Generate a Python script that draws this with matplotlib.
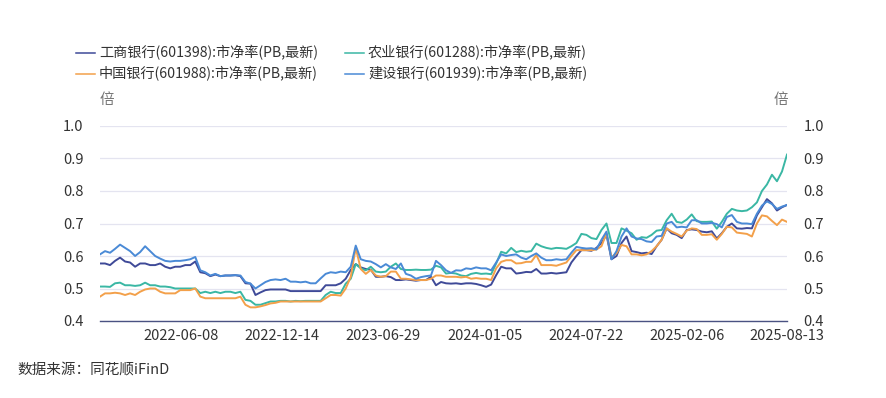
import numpy as np
import matplotlib
matplotlib.use("Agg")
from matplotlib import pyplot as plt
from matplotlib.lines import Line2D

plt.rcParams['font.family'] = ['Noto Sans CJK SC', 'DejaVu Sans']

#%% Data (PB, sampled roughly every 6 trading days, 2022-01 .. 2025-08-13)
icbc = [0.577, 0.577, 0.572, 0.585, 0.595, 0.583, 0.580, 0.567, 0.577, 0.577,
        0.572, 0.572, 0.577, 0.567, 0.562, 0.567, 0.567, 0.572, 0.572, 0.583,
        0.550, 0.547, 0.538, 0.543, 0.538, 0.540, 0.540, 0.541, 0.538, 0.516,
        0.515, 0.480, 0.488, 0.495, 0.497, 0.497, 0.497, 0.497, 0.492, 0.492,
        0.492, 0.492, 0.492, 0.492, 0.492, 0.510, 0.510, 0.510, 0.516, 0.530,
        0.557, 0.575, 0.565, 0.560, 0.558, 0.536, 0.536, 0.538, 0.535, 0.526,
        0.526, 0.528, 0.526, 0.524, 0.526, 0.526, 0.536, 0.510, 0.520, 0.516,
        0.515, 0.516, 0.514, 0.516, 0.516, 0.514, 0.510, 0.505, 0.512, 0.541,
        0.567, 0.562, 0.562, 0.546, 0.548, 0.551, 0.550, 0.560, 0.546, 0.546,
        0.548, 0.546, 0.548, 0.550, 0.580, 0.600, 0.618, 0.618, 0.616, 0.625,
        0.640, 0.665, 0.590, 0.600, 0.640, 0.660, 0.615, 0.612, 0.608, 0.610,
        0.606, 0.630, 0.650, 0.685, 0.670, 0.665, 0.655, 0.680, 0.682, 0.680,
        0.675, 0.673, 0.676, 0.654, 0.670, 0.690, 0.700, 0.685, 0.684, 0.686,
        0.685, 0.725, 0.750, 0.775, 0.762, 0.740, 0.750, 0.757]
abc = [0.506, 0.506, 0.505, 0.516, 0.518, 0.510, 0.510, 0.508, 0.510, 0.518,
       0.510, 0.510, 0.506, 0.506, 0.504, 0.500, 0.500, 0.500, 0.500, 0.500,
       0.486, 0.490, 0.486, 0.490, 0.486, 0.490, 0.490, 0.486, 0.490, 0.465,
       0.462, 0.450, 0.450, 0.455, 0.460, 0.460, 0.462, 0.462, 0.460, 0.462,
       0.461, 0.462, 0.462, 0.462, 0.462, 0.480, 0.490, 0.486, 0.486, 0.515,
       0.530, 0.575, 0.562, 0.556, 0.567, 0.552, 0.550, 0.552, 0.567, 0.577,
       0.560, 0.557, 0.557, 0.558, 0.557, 0.557, 0.558, 0.570, 0.565, 0.546,
       0.548, 0.546, 0.540, 0.538, 0.545, 0.548, 0.545, 0.546, 0.544, 0.577,
       0.613, 0.608, 0.625, 0.612, 0.616, 0.613, 0.615, 0.638, 0.630, 0.625,
       0.622, 0.625, 0.624, 0.622, 0.630, 0.640, 0.668, 0.665, 0.655, 0.652,
       0.680, 0.700, 0.640, 0.640, 0.685, 0.678, 0.670, 0.650, 0.658, 0.656,
       0.665, 0.678, 0.680, 0.710, 0.730, 0.705, 0.702, 0.712, 0.728, 0.707,
       0.705, 0.705, 0.706, 0.684, 0.705, 0.730, 0.745, 0.740, 0.738, 0.740,
       0.750, 0.765, 0.800, 0.820, 0.850, 0.830, 0.860, 0.912]
boc = [0.475, 0.485, 0.485, 0.487, 0.485, 0.480, 0.485, 0.480, 0.490, 0.497,
       0.500, 0.500, 0.490, 0.485, 0.485, 0.485, 0.495, 0.495, 0.495, 0.500,
       0.475, 0.470, 0.470, 0.470, 0.470, 0.470, 0.470, 0.470, 0.475, 0.450,
       0.442, 0.442, 0.445, 0.449, 0.454, 0.456, 0.460, 0.460, 0.460, 0.460,
       0.460, 0.460, 0.460, 0.460, 0.460, 0.470, 0.480, 0.480, 0.478, 0.500,
       0.536, 0.625, 0.560, 0.545, 0.557, 0.540, 0.536, 0.538, 0.552, 0.552,
       0.530, 0.530, 0.528, 0.526, 0.526, 0.526, 0.530, 0.540, 0.540, 0.536,
       0.536, 0.536, 0.534, 0.536, 0.530, 0.532, 0.530, 0.530, 0.526, 0.562,
       0.582, 0.587, 0.587, 0.577, 0.578, 0.582, 0.582, 0.603, 0.572, 0.572,
       0.572, 0.570, 0.575, 0.580, 0.600, 0.618, 0.618, 0.618, 0.618, 0.620,
       0.630, 0.670, 0.597, 0.608, 0.634, 0.630, 0.605, 0.605, 0.602, 0.605,
       0.615, 0.630, 0.650, 0.685, 0.675, 0.668, 0.660, 0.678, 0.685, 0.683,
       0.665, 0.665, 0.667, 0.650, 0.668, 0.690, 0.688, 0.672, 0.670, 0.668,
       0.660, 0.700, 0.725, 0.722, 0.708, 0.695, 0.712, 0.705]
ccb = [0.605, 0.615, 0.610, 0.622, 0.635, 0.625, 0.615, 0.600, 0.612, 0.630,
       0.615, 0.600, 0.592, 0.585, 0.583, 0.585, 0.585, 0.587, 0.590, 0.597,
       0.556, 0.550, 0.540, 0.545, 0.538, 0.540, 0.540, 0.541, 0.540, 0.520,
       0.515, 0.500, 0.510, 0.520, 0.526, 0.528, 0.526, 0.530, 0.521, 0.521,
       0.519, 0.521, 0.516, 0.516, 0.531, 0.545, 0.550, 0.548, 0.552, 0.550,
       0.567, 0.632, 0.590, 0.585, 0.583, 0.575, 0.565, 0.575, 0.565, 0.560,
       0.577, 0.545, 0.540, 0.530, 0.535, 0.538, 0.540, 0.585, 0.572, 0.556,
       0.548, 0.556, 0.555, 0.562, 0.560, 0.565, 0.562, 0.562, 0.556, 0.580,
       0.605, 0.600, 0.603, 0.605, 0.595, 0.590, 0.600, 0.608, 0.595, 0.587,
       0.587, 0.590, 0.588, 0.590, 0.610, 0.628, 0.625, 0.623, 0.624, 0.620,
       0.650, 0.675, 0.590, 0.615, 0.660, 0.685, 0.660, 0.654, 0.652, 0.645,
       0.643, 0.660, 0.662, 0.700, 0.705, 0.688, 0.690, 0.688, 0.710, 0.710,
       0.700, 0.700, 0.702, 0.698, 0.688, 0.720, 0.726, 0.705, 0.700, 0.700,
       0.698, 0.730, 0.755, 0.768, 0.760, 0.745, 0.752, 0.757]

series_names = ["工商银行(601398):市净率(PB,最新)", "农业银行(601288):市净率(PB,最新)",
                "中国银行(601988):市净率(PB,最新)", "建设银行(601939):市净率(PB,最新)"]
tick_labels = ["2022-06-08", "2022-12-14", "2023-06-29", "2024-01-05",
               "2024-07-22", "2025-02-06", "2025-08-13"]
tick_pos = [16.2, 36.2, 56.5, 76.8, 96.9, 117.1, 137]
yticks = [0.4, 0.5, 0.6, 0.7, 0.8, 0.9, 1.0]

colors = ["#3f4a98", "#3ab7a4", "#f3a04a", "#4a8ad6"]

#%% Plot
W, H = 887, 398
fig = plt.figure(figsize=(W / 100, H / 100), dpi=100)
ax = fig.add_axes([100 / W, (H - 321) / H, 687 / W, 195 / H])

x = np.arange(len(icbc))
for vals, c in zip([icbc, abc, boc, ccb], colors):
    ax.plot(x, vals, color=c, lw=1.4, solid_joinstyle='round')

ax.set_xlim(0, 137)
ax.set_ylim(0.4, 1.0)
ax.set_yticks(yticks)
ax.set_yticklabels([f"{v:.1f}" for v in yticks])
ax.set_xticks(tick_pos)
ax.set_xticklabels(tick_labels)
ax.grid(axis='y', color="#e4e4f0", lw=0.9)
ax.set_axisbelow(True)
for s in ["top", "left", "right"]:
    ax.spines[s].set_visible(False)
ax.spines["bottom"].set_color("#4a5282")
ax.spines["bottom"].set_linewidth(1.0)
ax.tick_params(axis='y', length=0, labelsize=10.5, labelcolor="#333333",
               pad=12, labelright=True)
ax.tick_params(axis='x', length=0, labelsize=10.5, labelcolor="#333333", pad=6)

# units
fig.text(100 / W, 1 - 100 / H, "倍", fontsize=10.5, color="#777777", va='center', ha='left')
fig.text(788 / W, 1 - 100 / H, "倍", fontsize=10.5, color="#777777", va='center', ha='right')

# legend
leg_pos = [(76, 53), (345, 53), (76, 74), (345, 74)]
for (lx, ly), name, c in zip(leg_pos, series_names, colors):
    fig.add_artist(Line2D([lx / W, (lx + 19) / W], [1 - ly / H, 1 - ly / H],
                          color=c, lw=1.1, transform=fig.transFigure))
    fig.text((lx + 23) / W, 1 - ly / H, name, fontsize=10.2, color="#333333",
             va='center', ha='left')

# source
fig.text(17 / W, 1 - 371 / H, "数据来源：同花顺iFinD", fontsize=10.5,
         color="#333333", va='center', ha='left')

fig.savefig("out.png", dpi=100)
